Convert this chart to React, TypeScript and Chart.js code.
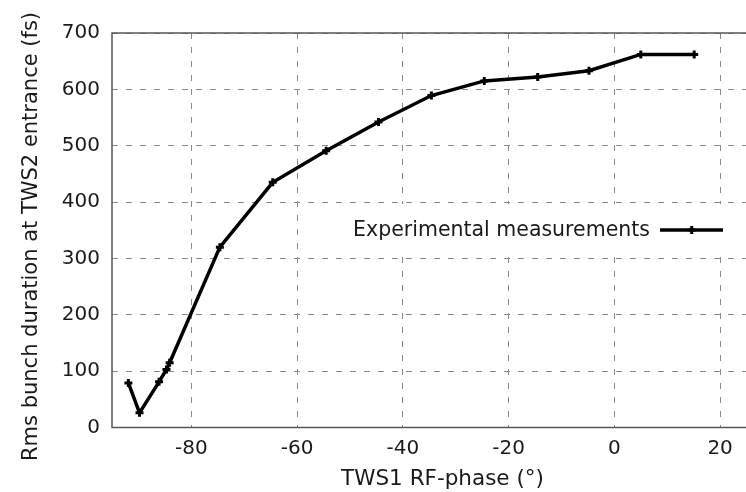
import React, { useEffect, useRef } from "react";
import { Chart, registerables } from "chart.js";

Chart.register(...registerables);

// ---- data ----
const phaseDeg = [-91.9, -89.8, -86.1, -84.7, -84.1, -74.6, -64.6, -54.5, -44.6, -34.6, -24.6, -14.5, -4.8, 5.0, 15.1];
const bunchFs = [79, 26, 81, 103, 115, 320, 435, 491, 542, 589, 615, 622, 633, 662, 662];
const seriesLabel = "Experimental measurements";
const xTitle = "TWS1 RF-phase (°)";
const yTitle = "Rms bunch duration at TWS2 entrance (fs)";
const xTickValues = [-80, -60, -40, -20, 0, 20];
const yTickValues = [0, 100, 200, 300, 400, 500, 600, 700];

const FONT = "'DejaVu Sans', 'Liberation Sans', Arial, sans-serif";
const TEXT = "#1a1a1a";
const FRAME = "#555555";
const GRID = "#8a8a8a";

const framePlugin = {
  id: "frameAndLegend",
  beforeDatasetsDraw(chart: any) {
    const { ctx } = chart;
    ctx.save();
    // white legend box covering grid lines
    ctx.fillStyle = "#ffffff";
    ctx.fillRect(342, 204, 396, 51);
    ctx.restore();
  },
  afterDatasetsDraw(chart: any) {
    const { ctx, chartArea: a } = chart;
    ctx.save();
    ctx.strokeStyle = FRAME;
    ctx.lineWidth = 1.5;
    ctx.setLineDash([]);
    ctx.strokeRect(a.left, a.top, a.right - a.left, a.bottom - a.top);

    // y-axis title
    ctx.save();
    ctx.translate(32, 236.5);
    ctx.rotate(-Math.PI / 2);
    ctx.fillStyle = TEXT;
    ctx.font = `21px ${FONT}`;
    ctx.textAlign = "center";
    ctx.textBaseline = "middle";
    ctx.fillText(yTitle, 0, 0);
    ctx.restore();

    // legend
    const ds = chart.data.datasets[0];
    ctx.fillStyle = TEXT;
    ctx.font = `20.5px ${FONT}`;
    ctx.textAlign = "right";
    ctx.textBaseline = "alphabetic";
    ctx.fillText(ds.label, 650, 236);
    ctx.strokeStyle = "#000";
    ctx.lineWidth = 3.5;
    ctx.lineCap = "butt";
    ctx.beginPath();
    ctx.moveTo(660, 230);
    ctx.lineTo(723, 230);
    ctx.stroke();
    const mx = 691.7, my = 230, r = 4;
    ctx.lineWidth = 3;
    ctx.beginPath();
    ctx.moveTo(mx - r, my);
    ctx.lineTo(mx + r, my);
    ctx.moveTo(mx, my - r);
    ctx.lineTo(mx, my + r);
    ctx.stroke();
    ctx.restore();
  },
};

export default function App() {
  const ref = useRef<HTMLCanvasElement | null>(null);

  useEffect(() => {
    if (!ref.current) return;
    const chart = new Chart(ref.current, {
      type: "line",
      data: {
        datasets: [
          {
            label: seriesLabel,
            data: phaseDeg.map((x, i) => ({ x, y: bunchFs[i] })),
            borderColor: "#000",
            backgroundColor: "#000",
            borderWidth: 3.5,
            pointStyle: "cross",
            pointRadius: 4,
            pointBorderWidth: 3,
            pointBorderColor: "#000",
            tension: 0,
            fill: false,
          },
        ],
      },
      options: {
        animation: false,
        responsive: false,
        devicePixelRatio: 1,
        layout: { padding: { top: 33, right: 1, left: 0, bottom: 0 } },
        plugins: {
          legend: { display: false },
          tooltip: { enabled: false },
        },
        scales: {
          x: {
            type: "linear",
            min: -95,
            max: 30,
            afterBuildTicks: (s: any) => {
              s.ticks = xTickValues.map((v) => ({ value: v }));
            },
            afterFit: (s: any) => {
              s.height = 64.5;
            },
            ticks: {
              padding: 9,
              color: TEXT,
              font: { family: FONT, size: 20 },
              maxRotation: 0,
              autoSkip: false,
            },
            grid: {
              color: GRID,
              lineWidth: 1,
              drawTicks: false,
            },
            border: { display: false, dash: [6, 8] },
            title: {
              display: true,
              text: xTitle,
              color: TEXT,
              font: { family: FONT, size: 21.5 },
              padding: { top: 0, bottom: 0 },
            },
          },
          y: {
            type: "linear",
            min: 0,
            max: 700,
            afterBuildTicks: (s: any) => {
              s.ticks = yTickValues.map((v) => ({ value: v }));
            },
            afterFit: (s: any) => {
              s.width = 112;
            },
            ticks: {
              padding: 12,
              color: TEXT,
              font: { family: FONT, size: 20 },
              autoSkip: false,
            },
            grid: {
              color: GRID,
              lineWidth: 1,
              drawTicks: false,
            },
            border: { display: false, dash: [6, 8] },
            title: { display: false },
          },
        },
      },
      plugins: [framePlugin],
    });
    return () => chart.destroy();
  }, []);

  return (
    <div
      style={{
        position: "fixed",
        left: 0,
        top: 0,
        width: 746,
        height: 492,
        overflow: "hidden",
        background: "#fff",
      }}
    >
      <canvas
        ref={ref}
        width={780}
        height={492}
        style={{ display: "block", width: 780, height: 492 }}
      />
    </div>
  );
}
